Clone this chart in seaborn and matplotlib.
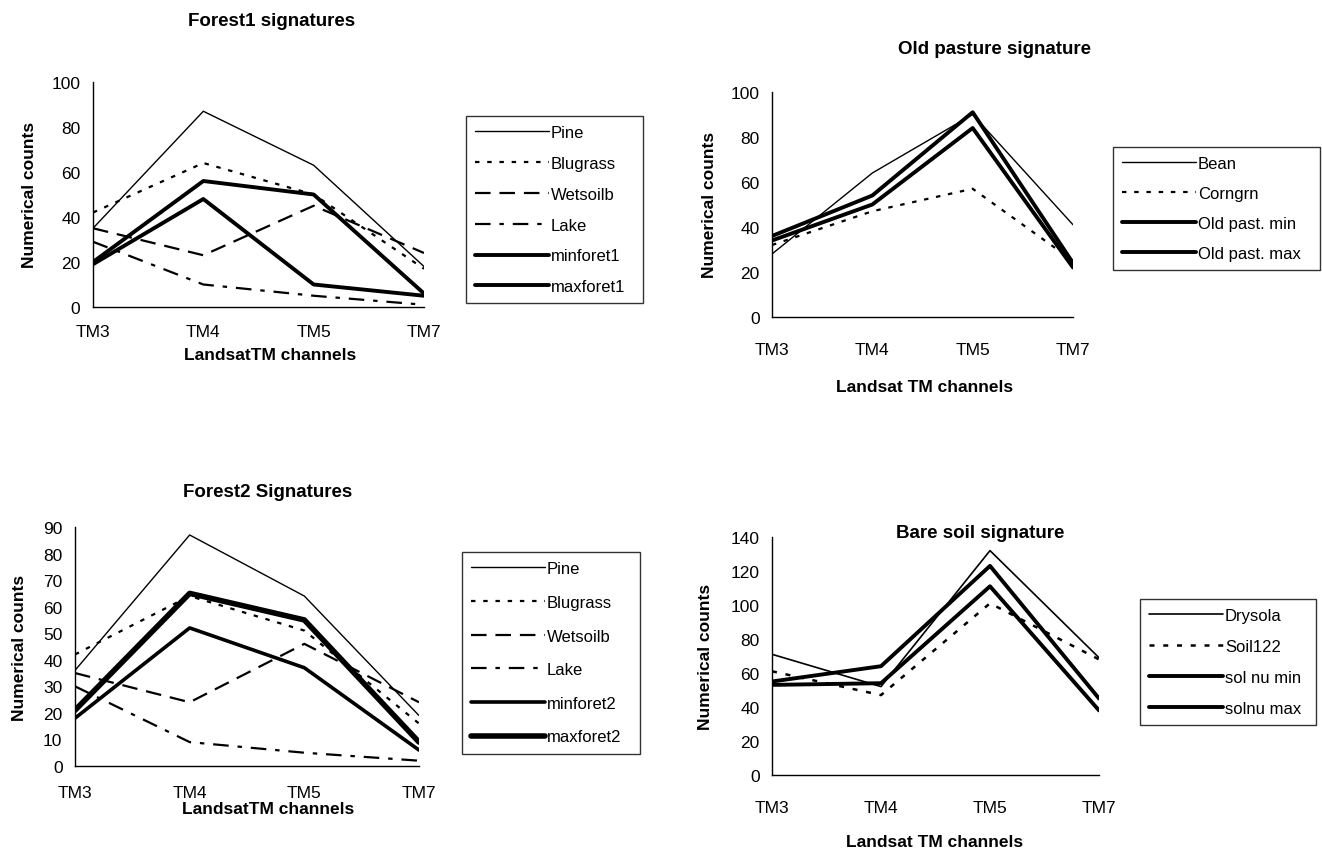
import matplotlib
matplotlib.use("Agg")
import matplotlib.pyplot as plt
import seaborn as sns
import pandas as pd

channels = ["TM3", "TM4", "TM5", "TM7"]

# Forest1 signatures
f1_names = ["Pine", "Blugrass", "Wetsoilb", "Lake", "minforet1", "maxforet1"]
f1_pine = [35, 87, 63, 18]
f1_blugrass = [42, 64, 50, 17]
f1_wetsoilb = [35, 23, 45, 24]
f1_lake = [29, 10, 5, 1]
f1_min = [19, 48, 10, 5]
f1_max = [20, 56, 50, 6]

# Old pasture signature
op_names = ["Bean", "Corngrn", "Old past. min", "Old past. max"]
op_bean = [28, 64, 90, 41]
op_corn = [32, 47, 57, 25]
op_min = [34, 50, 84, 22]
op_max = [36, 54, 91, 24]

# Forest2 signatures
f2_names = ["Pine", "Blugrass", "Wetsoilb", "Lake", "minforet2", "maxforet2"]
f2_pine = [36, 87, 64, 19]
f2_blugrass = [42, 64, 51, 16]
f2_wetsoilb = [35, 24, 46, 24]
f2_lake = [30, 9, 5, 2]
f2_min = [18, 52, 37, 6]
f2_max = [21, 65, 55, 9]

# Bare soil signature
bs_names = ["Drysola", "Soil122", "sol nu min", "solnu max"]
bs_dry = [71, 52, 132, 69]
bs_soil = [61, 47, 101, 68]
bs_min = [53, 54, 111, 38]
bs_max = [55, 64, 123, 45]

sns.set_style("white")
plt.rcParams["font.family"] = ["Liberation Sans", "DejaVu Sans"]
plt.rcParams["text.color"] = "black"
plt.rcParams["axes.labelcolor"] = "black"
plt.rcParams["xtick.color"] = "black"
plt.rcParams["ytick.color"] = "black"

solid = "-"
dotted = (0, (2, 3.5))
dashed = (0, (7, 4))
dashdot = (0, (7, 4, 2, 4))

fig = plt.figure(figsize=(13.22, 8.54), dpi=100)
W, H = 1322, 854


def make_ax(x0, x1, y0, ytop):
    return fig.add_axes([x0 / W, 1 - y0 / H, (x1 - x0) / W, (y0 - ytop) / H])


def draw(ax, names, series, styles, widths, ymax, ystep, leg_box, xpad, spacing):
    for name, vals, ls, lw in zip(names, series, styles, widths):
        df = pd.DataFrame({"x": range(len(channels)), "y": vals})
        sns.lineplot(data=df, x="x", y="y", ax=ax, color="black",
                     linestyle=ls, linewidth=lw, label=name)
    ax.set_xlim(0, 3)
    ax.set_ylim(0, ymax)
    ax.set_xticks(range(len(channels)))
    ax.set_xticklabels(channels)
    ax.set_yticks(range(0, ymax + 1, ystep))
    ax.set_xlabel("")
    ax.set_ylabel("")
    for s in ["top", "right"]:
        ax.spines[s].set_visible(False)
    for s in ["left", "bottom"]:
        ax.spines[s].set_color("black")
        ax.spines[s].set_linewidth(1)
    ax.tick_params(axis="both", direction="inout", length=8, width=1,
                   colors="black", labelsize=12.5, pad=5)
    ax.tick_params(axis="x", pad=xpad)
    lx0, ly0, lx1, ly1 = leg_box
    leg = ax.legend(loc="upper left",
                    bbox_to_anchor=(lx0 / W, 1 - ly1 / H, (lx1 - lx0) / W, (ly1 - ly0) / H),
                    bbox_transform=fig.transFigure, mode="expand",
                    frameon=True, fancybox=False, edgecolor="black",
                    fontsize=12, handlelength=4.4, handletextpad=0.15,
                    labelspacing=spacing, borderaxespad=0, borderpad=0.55)
    leg.get_frame().set_linewidth(1)
    for t in leg.get_texts():
        t.set_color("black")
    return ax


# Forest1
ax1 = make_ax(93, 424, 308, 83)
draw(ax1, f1_names, [f1_pine, f1_blugrass, f1_wetsoilb, f1_lake, f1_min, f1_max],
     [solid, dotted, dashed, dashdot, solid, solid], [1, 1.6, 1.6, 1.6, 2.8, 2.8],
     100, 20, (466, 117, 643, 302), 8, 0.95)

# Old pasture
ax2 = make_ax(772, 1073, 318, 93)
draw(ax2, op_names, [op_bean, op_corn, op_min, op_max],
     [solid, dotted, solid, solid], [1, 1.6, 2.8, 2.8],
     100, 20, (1113, 148, 1320, 273), 14, 0.9)

# Forest2
ax3 = make_ax(75, 419, 767, 528)
draw(ax3, f2_names, [f2_pine, f2_blugrass, f2_wetsoilb, f2_lake, f2_min, f2_max],
     [solid, dotted, dashed, dashdot, solid, solid], [1, 1.6, 1.6, 1.6, 2.6, 4],
     90, 10, (462, 553, 640, 757), 10, 1.12)

# Bare soil
ax4 = make_ax(772, 1099, 776, 538)
draw(ax4, bs_names, [bs_dry, bs_soil, bs_min, bs_max],
     [solid, dotted, solid, solid], [1.2, 1.8, 2.8, 2.8],
     140, 20, (1140, 600, 1316, 727), 14, 0.95)

title_kw = dict(fontsize=13.5, fontweight="bold", ha="center", va="center")
lab_kw = dict(fontsize=12.5, fontweight="bold", ha="center", va="center")

fig.text(272 / W, 1 - 22 / H, "Forest1 signatures", **title_kw)
fig.text(995 / W, 1 - 50 / H, "Old pasture signature", **title_kw)
fig.text(268 / W, 1 - 493 / H, "Forest2 Signatures", **title_kw)
fig.text(980 / W, 1 - 533 / H, "Bare soil signature", **title_kw)

fig.text(270 / W, 1 - 356 / H, "LandsatTM channels", **lab_kw)
fig.text(925 / W, 1 - 388 / H, "Landsat TM channels", **lab_kw)
fig.text(268 / W, 1 - 810 / H, "LandsatTM channels", **lab_kw)
fig.text(935 / W, 1 - 843 / H, "Landsat TM channels", **lab_kw)

fig.text(30 / W, 1 - 195 / H, "Numerical counts", rotation=90, **lab_kw)
fig.text(710 / W, 1 - 205 / H, "Numerical counts", rotation=90, **lab_kw)
fig.text(20 / W, 1 - 648 / H, "Numerical counts", rotation=90, **lab_kw)
fig.text(705 / W, 1 - 657 / H, "Numerical counts", rotation=90, **lab_kw)

fig.savefig("out.png", dpi=100, facecolor="white")
